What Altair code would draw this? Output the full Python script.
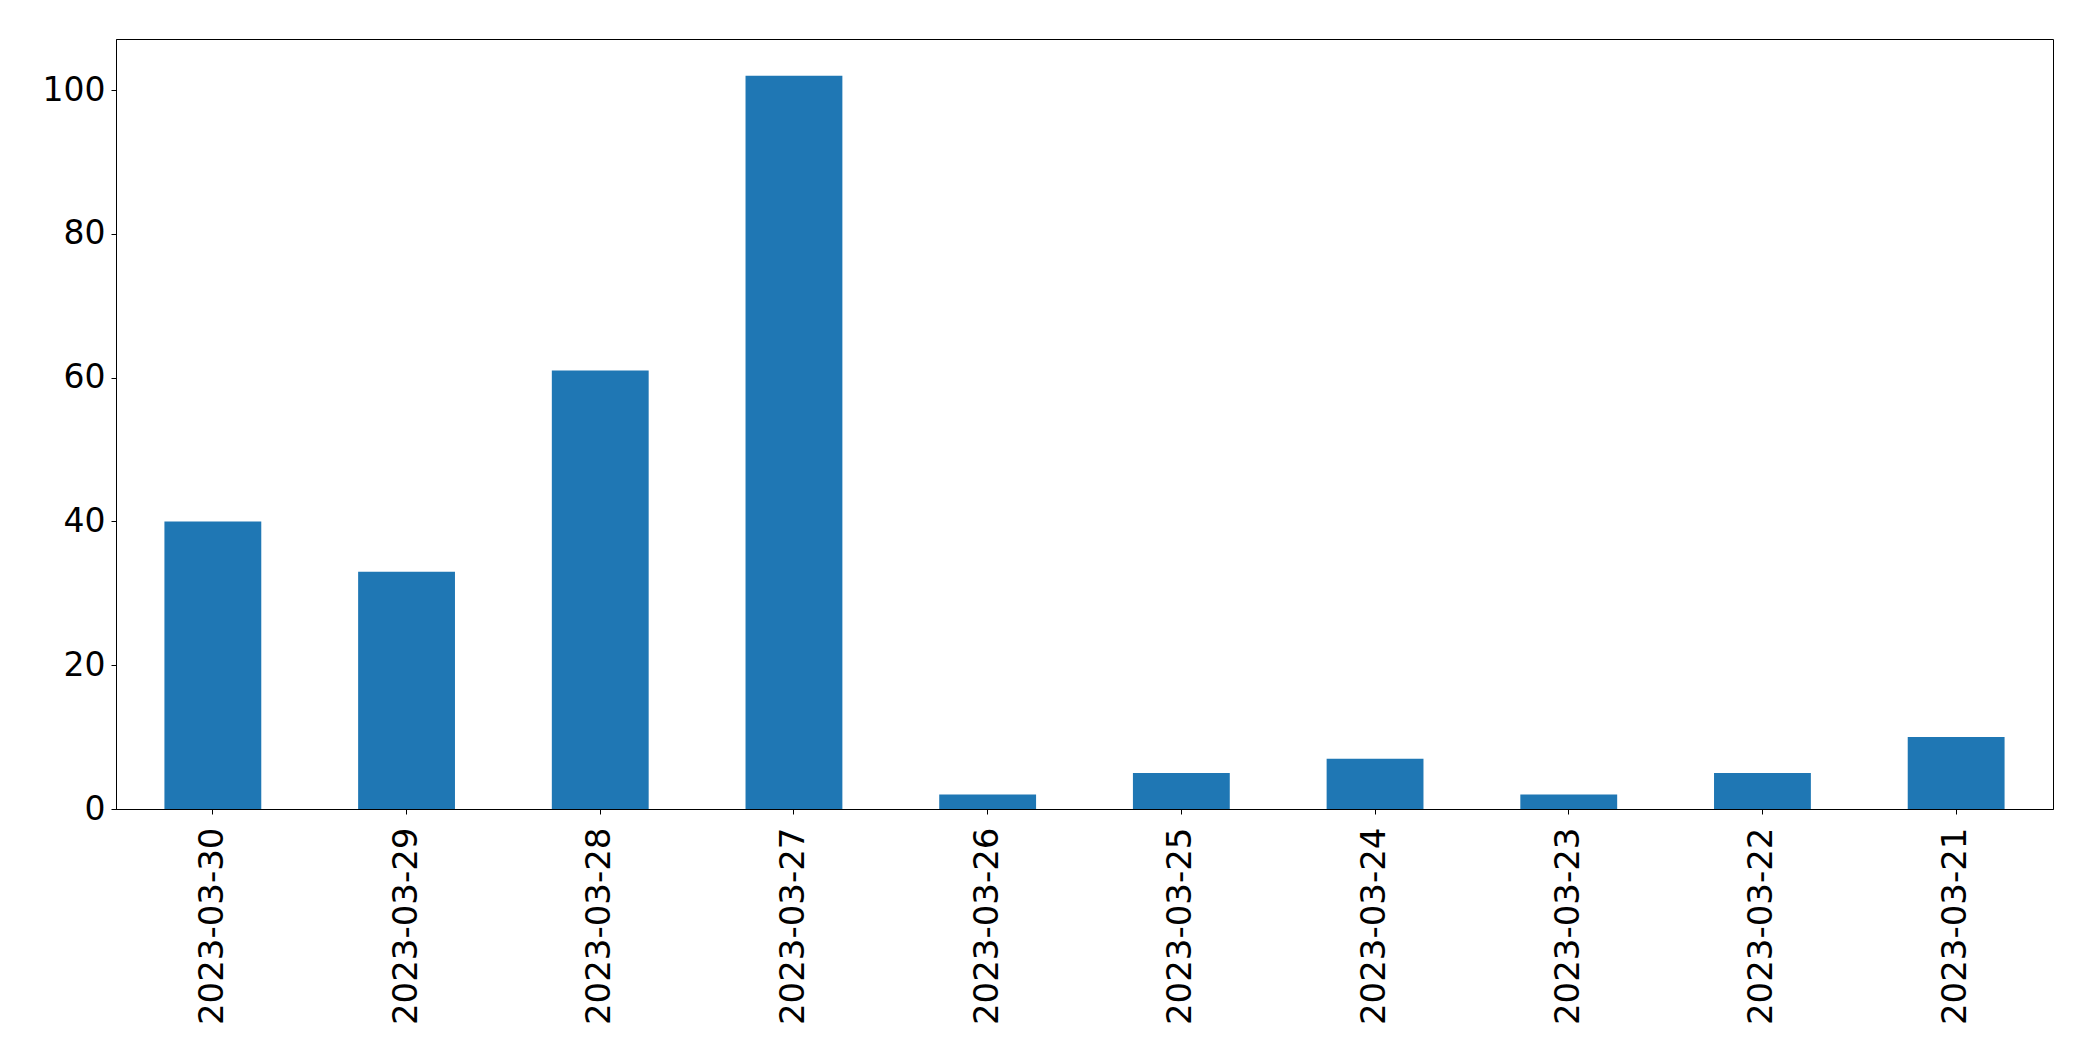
import altair as alt
import pandas as pd

dates = ["2023-03-30", "2023-03-29", "2023-03-28", "2023-03-27", "2023-03-26",
         "2023-03-25", "2023-03-24", "2023-03-23", "2023-03-22", "2023-03-21"]
counts = [40, 33, 61, 102, 2, 5, 7, 2, 5, 10]

df = pd.DataFrame({"date": dates, "count": counts})

FONT = "DejaVu Sans"

chart = alt.Chart(df).mark_bar(color="#1f77b4").encode(
    x=alt.X("date:N", sort=dates, title=None,
            scale=alt.Scale(paddingInner=0.5, paddingOuter=0.25),
            axis=alt.Axis(labelAngle=270, labelFontSize=34, labelFont=FONT, labelLimit=0,
                          labelColor="black", tickColor="black", domainColor="black",
                          tickSize=5, labelPadding=13, domain=True, grid=False)),
    y=alt.Y("count:Q", title=None,
            scale=alt.Scale(domain=[0, 107.1], nice=False, zero=True),
            axis=alt.Axis(values=[0, 20, 40, 60, 80, 100], labelFontSize=33, labelFont=FONT,
                          labelLimit=0,
                          labelColor="black", tickColor="black", domainColor="black",
                          tickSize=5, labelPadding=6, grid=False)),
).properties(
    width=1937, height=770,
    autosize=alt.AutoSizeParams(type="none"),
    padding={"left": 108, "top": 31, "right": 30, "bottom": 240},
).configure_view(
    stroke="black", strokeWidth=1
).configure_axis(
    domainWidth=1, tickWidth=1
)

chart.save("out.html", embed_options={"renderer": "svg", "actions": False})
